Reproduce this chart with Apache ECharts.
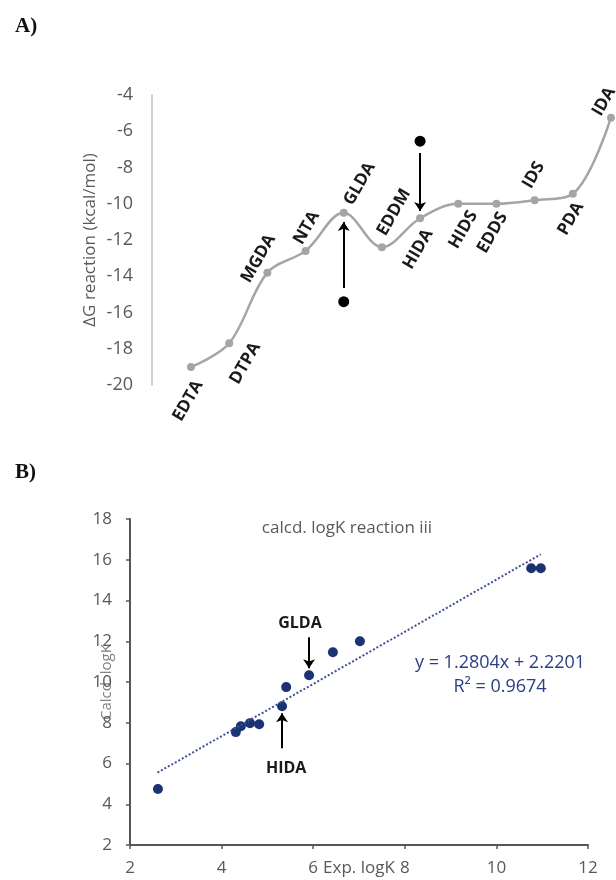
<!DOCTYPE html>
<html>
<head>
<meta charset="utf-8">
<script src="https://cdn.jsdelivr.net/npm/echarts@6/dist/echarts.min.js"></script>
<style>
html, body { margin: 0; padding: 0; background: #fff; }
#chart { width: 616px; height: 880px; }
</style>
</head>
<body>
<div id="chart"></div>
<script>
// A) reaction free energy per chelating agent
const ligands = ['EDTA', 'DTPA', 'MGDA', 'NTA', 'GLDA', 'EDDM', 'HIDA', 'HIDS', 'EDDS', 'IDS', 'PDA', 'IDA']
const deltaG = [-19.0, -17.7, -13.8, -12.6, -10.5, -12.4, -10.8, -10.0, -10.0, -9.8, -9.45, -5.25]
// black dots + arrows pointing at GLDA and HIDA
const markedLigands = ['GLDA', 'HIDA']
const markedDots = [-15.4, -6.55]
const arrowFrom = [-14.65, -7.2]
const arrowTo = [-11.0, -10.4]

// B) calculated vs experimental logK
const expLogK = [2.61, 4.31, 4.42, 4.62, 4.82, 5.32, 5.41, 5.91, 6.43, 7.02, 10.76, 10.97]
const calcLogK = [4.75, 7.54, 7.83, 7.98, 7.93, 8.81, 9.75, 10.33, 11.46, 12.0, 15.58, 15.58]
const trendX = [2.6, 10.97]
const trendY = [5.55, 16.27]

// where each rotated ligand label sits relative to its point (px)
const labelShift = [[-3, 34], [16, 20], [-9, -14], [1, -23], [16, -29], [12, -35],
    [-2, 31], [5, 26], [-4, 29], [-1, -25], [-2, 25], [-7, -16]]

const font = 'Open Sans'
const grey = '#595959'
const navy = '#1b3372'

let chart = echarts.init(document.getElementById('chart'))
chart.setOption({
    backgroundColor: '#fff',
    animation: false,
    textStyle: { fontFamily: font },
    graphic: [
        { type: 'text', x: 15, y: 16, style: { text: 'A)', font: 'bold 21px "Liberation Serif"', fill: '#111' } },
        { type: 'text', x: 15, y: 462, style: { text: 'B)', font: 'bold 21px "Liberation Serif"', fill: '#111' } },
        { type: 'text', x: 347, y: 528, style: { text: 'calcd. logK reaction iii', font: '17px "Open Sans"', fill: grey, align: 'center', verticalAlign: 'middle', textAlign: 'center', textVerticalAlign: 'middle' } },
        { type: 'text', x: 500, y: 663, style: { text: 'y = 1.2804x + 2.2201', font: '18px "Open Sans"', fill: '#2a3f82', align: 'center', verticalAlign: 'middle', textAlign: 'center', textVerticalAlign: 'middle' } },
        { type: 'text', x: 500, y: 687, style: { text: 'R² = 0.9674', font: '18px "Open Sans"', fill: '#2a3f82', align: 'center', verticalAlign: 'middle', textAlign: 'center', textVerticalAlign: 'middle' } }
    ],
    grid: [
        { left: 191, right: 5, top: 95, height: 290 },
        { left: 130, top: 519, width: 458, height: 326 }
    ],
    xAxis: [
        {
            gridIndex: 0,
            type: 'category',
            data: ligands,
            boundaryGap: false,
            axisLine: { show: false },
            axisTick: { show: false },
            axisLabel: { show: false },
        },
        {
            gridIndex: 1,
            type: 'value',
            min: 2,
            max: 12,
            interval: 2,
            name: 'Exp. logK',
            nameLocation: 'middle',
            nameGap: 15,
            nameMoveOverlap: false,
            nameTextStyle: { color: grey, fontSize: 17 },
            axisLine: { lineStyle: { color: '#555', width: 2 } },
            axisTick: { length: 4, lineStyle: { color: '#555', width: 1.5 } },
            axisLabel: { color: grey, fontSize: 17, margin: 15 },
            splitLine: { show: false },
        }
    ],
    yAxis: [
        {
            gridIndex: 0,
            type: 'value',
            min: -20,
            max: -4,
            interval: 2,
            offset: 39,
            name: 'ΔG reaction (kcal/mol)',
            nameLocation: 'middle',
            nameGap: 53,
            nameMoveOverlap: false,
            nameTextStyle: { color: grey, fontSize: 17 },
            axisLine: { show: true, lineStyle: { color: '#bfbfbf', width: 1.5 } },
            axisTick: { show: false },
            axisLabel: { color: grey, fontSize: 18, margin: 19 },
            splitLine: { show: false },
        },
        {
            gridIndex: 1,
            type: 'value',
            min: 2,
            max: 18,
            interval: 2,
            name: 'Calcd. logK',
            nameLocation: 'middle',
            nameGap: 16,
            nameMoveOverlap: false,
            nameTextStyle: { color: '#7f7f7f', fontSize: 15 },
            axisLine: { show: true, lineStyle: { color: '#555', width: 2 } },
            axisTick: { show: true, length: 4, lineStyle: { color: '#555', width: 1.5 } },
            axisLabel: { color: grey, fontSize: 17, margin: 18 },
            splitLine: { show: false },
        }
    ],
    series: [
        {
            name: 'ΔG',
            type: 'line',
            xAxisIndex: 0,
            yAxisIndex: 0,
            data: deltaG,
            smooth: 0.35,
            symbol: 'circle',
            symbolSize: 8,
            itemStyle: { color: '#a5a5a5' },
            lineStyle: { color: '#a5a5a5', width: 2.5 },
            label: {
                show: true,
                formatter: (p) => p.name,
                fontFamily: font,
                fontWeight: 'bold',
                fontSize: 17,
                color: '#1a1a1a',
            },
            labelLayout: function (params) {
                const s = labelShift[params.dataIndex]
                return {
                    x: params.rect.x + params.rect.width / 2 + s[0],
                    y: params.rect.y + params.rect.height / 2 + s[1],
                    rotate: 60,
                    align: 'center',
                    verticalAlign: 'middle',
                }
            },
        },
        {
            name: 'marks',
            type: 'scatter',
            xAxisIndex: 0,
            yAxisIndex: 0,
            symbolSize: 11,
            itemStyle: { color: '#000', opacity: 1 },
            data: markedLigands.map((n, i) => [ligands.indexOf(n), markedDots[i]]),
            markLine: {
                silent: true,
                symbol: ['none', 'arrow'],
                symbolSize: 9,
                label: { show: false },
                lineStyle: { color: '#000', width: 2, type: 'solid' },
                data: markedLigands.map((n, i) => [
                    { coord: [ligands.indexOf(n), arrowFrom[i]] },
                    { coord: [ligands.indexOf(n), arrowTo[i]] }
                ]),
            },
        },
        {
            name: 'trend',
            type: 'line',
            xAxisIndex: 1,
            yAxisIndex: 1,
            data: trendX.map((x, i) => [x, trendY[i]]),
            symbol: 'none',
            lineStyle: { color: '#3f5196', width: 2, type: 'dotted' },
        },
        {
            name: 'logK',
            type: 'scatter',
            xAxisIndex: 1,
            yAxisIndex: 1,
            symbolSize: 10,
            itemStyle: { color: navy, opacity: 1 },
            data: expLogK.map((x, i) => [x, calcLogK[i]]),
            markLine: {
                silent: true,
                symbol: ['none', 'arrow'],
                symbolSize: 9,
                label: { show: false },
                lineStyle: { color: '#000', width: 2, type: 'solid' },
                data: [
                    [{ coord: [5.91, 12.2] }, { coord: [5.91, 10.68] }],
                    [{ coord: [5.32, 6.75] }, { coord: [5.32, 8.47] }]
                ],
            },
            markPoint: {
                silent: true,
                symbol: 'circle',
                symbolSize: 1,
                itemStyle: { color: 'rgba(0,0,0,0)' },
                label: {
                    show: true,
                    position: 'inside',
                    formatter: '{b}',
                    fontFamily: font,
                    fontWeight: 'bold',
                    fontSize: 16,
                    color: '#1a1a1a',
                },
                data: [
                    { name: 'GLDA', coord: [5.71, 12.88] },
                    { name: 'HIDA', coord: [5.41, 5.77] }
                ],
            },
        }
    ],
})
</script>
</body>
</html>
